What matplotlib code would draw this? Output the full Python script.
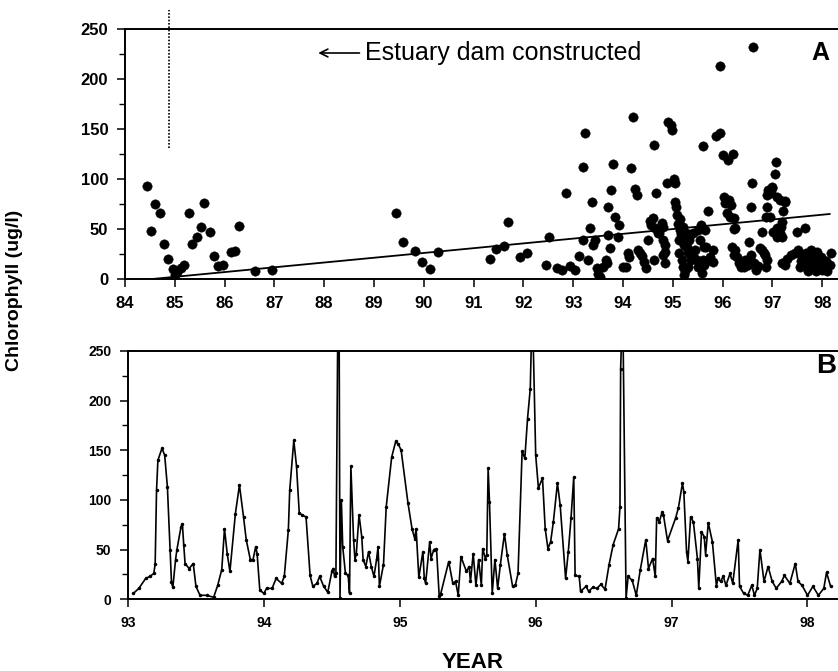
import numpy as np
import matplotlib
matplotlib.use("Agg")
import matplotlib.pyplot as plt
from matplotlib.ticker import MultipleLocator

plt.rcParams['font.family'] = ['Liberation Sans', 'DejaVu Sans']

# ---- panel A: scattered chlorophyll samples 1984-1998 ----
a_years = [84.44, 84.53, 84.60, 84.70, 84.78, 84.87, 84.96, 85.00, 85.05, 85.12,
           85.18, 85.29, 85.34, 85.45, 85.53, 85.59, 85.70, 85.79, 85.87, 85.96,
           86.12, 86.20, 86.28, 86.62, 86.96, 89.45, 89.59, 89.82, 89.96, 90.12,
           90.29, 91.33, 91.44, 91.62, 91.70, 91.94, 92.07, 92.45, 92.52, 92.67,
           92.77, 92.86, 92.94, 93.04, 93.11, 93.19, 93.20, 93.24, 93.30, 93.34,
           93.37, 93.40, 93.43, 93.47, 93.50, 93.53, 93.60, 93.65, 93.67, 93.69,
           93.69, 93.73, 93.75, 93.79, 93.84, 93.89, 93.92, 93.99, 94.06, 94.10,
           94.13, 94.16, 94.21, 94.25, 94.29, 94.30, 94.34, 94.38, 94.42, 94.47,
           94.51, 94.56, 94.55, 94.61, 94.62, 94.63, 94.64, 94.67, 94.70, 94.73,
           94.78, 94.80, 94.81, 94.84, 94.81, 94.84, 94.85, 94.88, 94.91, 94.96,
           94.99, 95.02, 95.04, 95.05, 95.07, 95.09, 95.10, 95.12, 95.12, 95.14,
           95.15, 95.16, 95.19, 95.20, 95.20, 95.20, 95.22, 95.23, 95.25, 95.26,
           95.28, 95.30, 95.30, 95.33, 95.35, 95.36, 95.38, 95.41, 95.43, 95.45,
           95.48, 95.50, 95.51, 95.55, 95.57, 95.58, 95.60, 95.61, 95.62, 95.63,
           95.64, 95.66, 95.71, 95.73, 95.75, 95.80, 95.80, 95.87, 95.94, 95.94,
           96.00, 96.03, 96.05, 96.08, 96.10, 96.12, 96.15, 96.17, 96.20, 96.19,
           96.22, 96.22, 96.22, 96.25, 96.25, 96.28, 96.32, 96.36, 96.42, 96.45,
           96.48, 96.50, 96.53, 96.57, 96.58, 96.60, 96.62, 96.64, 96.67, 96.72,
           96.76, 96.80, 96.80, 96.83, 96.85, 96.87, 96.88, 96.89, 96.89, 96.90,
           96.92, 96.95, 96.97, 96.99, 97.00, 97.02, 97.05, 97.07, 97.09, 97.09,
           97.10, 97.16, 97.16, 97.17, 97.20, 97.22, 97.25, 97.26, 97.20, 97.20,
           97.25, 97.30, 97.38, 97.45, 97.50, 97.55, 97.52, 97.58, 97.60, 97.62,
           97.65, 97.66, 97.68, 97.70, 97.72, 97.75, 97.78, 97.80, 97.82, 97.85,
           97.88, 97.90, 97.92, 97.95, 97.98, 98.00, 98.05, 98.08, 98.10, 98.15,
           98.18]
a_vals = [93, 48, 75, 66, 35, 20, 10, 4, 7, 11,
          14, 66, 35, 42, 52, 76, 47, 23, 13, 14,
          27, 28, 53, 8, 9, 66, 37, 28, 17, 10,
          27, 20, 30, 33, 57, 22, 26, 14, 42, 11,
          9, 86, 13, 9, 23, 39, 112, 146, 19, 51,
          77, 34, 39, 11, 5, 2, 12, 19, 16, 44,
          72, 31, 89, 115, 62, 42, 54, 12, 12, 26,
          22, 111, 162, 90, 84, 29, 26, 23, 17, 11,
          39, 54, 58, 61, 134, 19, 51, 86, 46, 46,
          56, 52, 39, 34, 24, 16, 27, 96, 157, 154,
          149, 100, 77, 96, 72, 64, 55, 39, 26, 60,
          49, 45, 19, 52, 42, 12, 34, 4, 8, 46,
          32, 12, 26, 39, 44, 19, 22, 46, 21, 29,
          19, 12, 49, 39, 54, 6, 19, 133, 32, 14,
          49, 32, 68, 19, 22, 29, 17, 143, 146, 213,
          124, 82, 76, 66, 119, 79, 62, 74, 125, 32,
          50, 24, 61, 51, 29, 22, 16, 12, 12, 19,
          17, 14, 37, 72, 24, 96, 232, 16, 9, 13,
          31, 29, 47, 26, 24, 62, 12, 72, 84, 19,
          89, 62, 86, 92, 91, 47, 105, 117, 82, 51,
          42, 79, 46, 52, 57, 68, 77, 78, 42, 16,
          14, 20, 24, 26, 47, 12, 29, 18, 22, 14,
          20, 51, 26, 12, 8, 17, 29, 24, 12, 20,
          8, 27, 17, 14, 22, 9, 12, 18, 8, 14,
          26]

trend_years = [84.55, 98.15]
trend_vals = [0, 65]
dam_year = 84.89
dam_line_span = [131, 269]

a_ticks = list(range(84, 99))

# ---- panel B: 1993-1998 time series ----
b_years = [93.04, 93.08, 93.13, 93.16, 93.19, 93.20, 93.21, 93.22, 93.25, 93.27,
           93.29, 93.31, 93.32, 93.33, 93.35, 93.36, 93.39, 93.40, 93.41, 93.42,
           93.45, 93.48, 93.50, 93.53, 93.58, 93.63, 93.66, 93.69, 93.71, 93.73,
           93.75, 93.79, 93.82, 93.85, 93.87, 93.90, 93.92, 93.94, 93.95, 93.97,
           94.00, 94.02, 94.06, 94.09, 94.13, 94.15, 94.18, 94.19, 94.22, 94.24,
           94.26, 94.28, 94.31, 94.34, 94.36, 94.39, 94.41, 94.44, 94.47, 94.50,
           94.51, 94.52, 94.53, 94.545, 94.553, 94.56, 94.57, 94.58, 94.60, 94.62,
           94.63, 94.64, 94.66, 94.67, 94.68, 94.70, 94.72, 94.73, 94.75, 94.77,
           94.79, 94.81, 94.83, 94.84, 94.85, 94.88, 94.90, 94.94, 94.97, 94.99,
           95.01, 95.06, 95.09, 95.11, 95.12, 95.14, 95.17, 95.18, 95.19, 95.22,
           95.23, 95.25, 95.27, 95.29, 95.30, 95.36, 95.39, 95.41, 95.43, 95.45,
           95.49, 95.51, 95.52, 95.54, 95.56, 95.58, 95.60, 95.61, 95.63, 95.64,
           95.65, 95.66, 95.68, 95.70, 95.72, 95.74, 95.77, 95.79, 95.83, 95.85,
           95.87, 95.90, 95.92, 95.94, 95.96, 95.975, 96.00, 96.02, 96.05, 96.07,
           96.09, 96.11, 96.13, 96.16, 96.18, 96.22, 96.24, 96.26, 96.28, 96.29,
           96.32, 96.33, 96.37, 96.39, 96.42, 96.45, 96.48, 96.51, 96.54, 96.57,
           96.61, 96.62, 96.625, 96.64, 96.665, 96.68, 96.71, 96.74, 96.77, 96.81,
           96.83, 96.86, 96.88, 96.89, 96.91, 96.93, 96.94, 96.97, 97.03, 97.05,
           97.08, 97.09, 97.11, 97.12, 97.14, 97.16, 97.19, 97.20, 97.22, 97.24,
           97.25, 97.27, 97.30, 97.33, 97.34, 97.36, 97.38, 97.40, 97.43, 97.45,
           97.49, 97.50, 97.53, 97.56, 97.59, 97.61, 97.63, 97.65, 97.68, 97.71,
           97.74, 97.77, 97.81, 97.83, 97.87, 97.91, 97.93, 97.96, 98.00, 98.04,
           98.08, 98.12, 98.14, 98.17]
b_vals = [6, 11, 21, 23, 26, 36, 110, 140, 152, 145,
          113, 50, 17, 12, 40, 50, 73, 76, 55, 36,
          31, 36, 13, 4, 4, 2, 14, 30, 71, 46,
          28, 86, 115, 83, 60, 40, 40, 53, 46, 9,
          6, 11, 11, 21, 16, 23, 70, 110, 160, 134,
          87, 85, 83, 24, 13, 16, 23, 13, 7, 28,
          31, 23, 26, 300, 300, 1, 100, 53, 26, 24,
          6, 134, 60, 40, 46, 85, 63, 40, 33, 48,
          33, 23, 41, 53, 13, 35, 93, 143, 159, 156,
          150, 97, 71, 61, 71, 22, 48, 21, 16, 58,
          41, 50, 51, 3, 5, 38, 16, 18, 4, 43,
          28, 33, 18, 46, 14, 40, 14, 51, 41, 45,
          132, 98, 6, 40, 11, 35, 66, 45, 13, 14,
          26, 149, 142, 182, 212, 300, 145, 112, 122, 71,
          51, 58, 78, 117, 95, 21, 48, 82, 123, 24,
          23, 8, 13, 8, 12, 11, 15, 10, 35, 55,
          71, 93, 232, 300, 1, 23, 19, 4, 30, 60,
          31, 41, 23, 82, 78, 88, 85, 59, 82, 92,
          117, 108, 48, 38, 83, 78, 41, 11, 68, 63,
          45, 77, 58, 13, 21, 18, 23, 14, 26, 16,
          60, 13, 6, 4, 14, 4, 11, 50, 18, 33,
          18, 11, 18, 24, 16, 36, 18, 14, 4, 13,
          4, 11, 27, 13]

b_ticks = list(range(93, 99))

W, H = 838, 671
fig = plt.figure(figsize=(W / 100, H / 100), dpi=100)

# panel positions in pixels
axA = fig.add_axes([125 / W, (H - 279) / H, (W - 125) / W, 250 / H])
axB = fig.add_axes([128 / W, (H - 599.3) / H, (W - 128) / W, 248.3 / H])

for ax in (axA, axB):
    ax.spines['right'].set_visible(False)
    for s in ('left', 'bottom', 'top'):
        ax.spines[s].set_linewidth(1.4)
    ax.set_ylim(0, 250)
    ax.yaxis.set_major_locator(MultipleLocator(50))
    ax.yaxis.set_minor_locator(MultipleLocator(25))
    ax.tick_params(which='major', direction='out', length=6, width=1.1)
    ax.tick_params(which='minor', direction='out', length=4, width=1.0)
    ax.tick_params(axis='x', which='minor', bottom=False)

# ---- A ----
axA.scatter(a_years, a_vals, s=46, color='black', edgecolors='black', linewidths=0.3, zorder=3)
axA.plot(trend_years, trend_vals, color='black', lw=1.3)
axA.plot([dam_year, dam_year], dam_line_span, color='black', ls=(0, (1, 1)), lw=1.2,
         clip_on=False)
axA.set_xlim(84, 84 + (W - 125) / 49.8)
axA.set_xticks(a_ticks)
axA.set_xticklabels([str(t) for t in a_ticks])
for lab in axA.get_xticklabels() + axA.get_yticklabels():
    lab.set_fontweight('bold')
    lab.set_fontsize(12)
axA.tick_params(axis='both', which='major', pad=6)

axA.annotate("Estuary dam constructed", xy=(87.88, 226), xytext=(88.82, 226),
             fontsize=18, va='center', ha='left',
             arrowprops=dict(arrowstyle='->', color='black', lw=1.2,
                             shrinkA=2, shrinkB=0, mutation_scale=14))
axA.text(0.975, 0.905, "A", transform=axA.transAxes, fontsize=18,
         fontweight='bold', ha='center', va='center')

# ---- B ----
axB.plot(b_years, b_vals, color='black', lw=1.2, marker='.', ms=3)
axB.set_xlim(93, 93 + (W - 128) / 135.9)
axB.set_xticks(b_ticks)
axB.set_xticklabels([str(t) for t in b_ticks])
for lab in axB.get_xticklabels() + axB.get_yticklabels():
    lab.set_fontweight('bold')
    lab.set_fontsize(10)
axB.tick_params(axis='both', which='major', pad=6)
fig.text((W - 2) / W, 1 - 366 / H, "B", fontsize=20,
         fontweight='bold', ha='right', va='center')

fig.text(15 / W, 1 - 290 / H, "Chlorophyll (ug/l)", rotation=90, fontsize=14,
         fontweight='bold', ha='center', va='center')
fig.text(473 / W, 1 - 662 / H, "YEAR", fontsize=16, fontweight='bold',
         ha='center', va='center')

fig.savefig("out.png", dpi=100)
